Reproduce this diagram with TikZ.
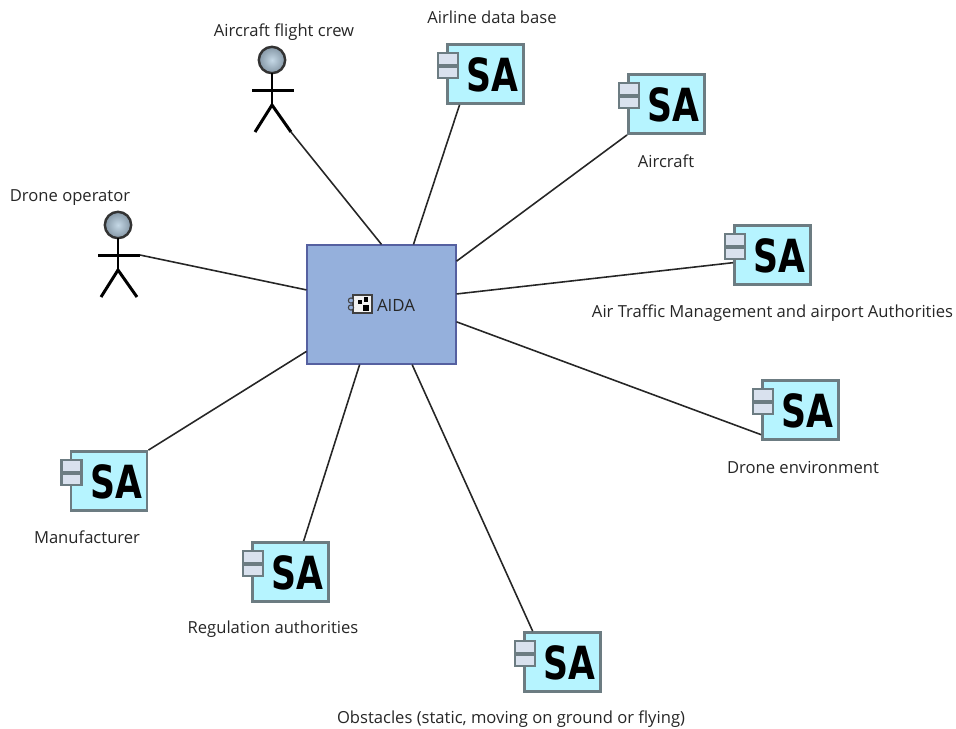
\documentclass[tikz,border=0pt]{standalone}
\usepackage{fontspec}
\setmainfont{Open Sans}
\newfontfamily\sabold{DejaVu Sans}
\usepackage{tikz}
\usetikzlibrary{positioning}
\definecolor{saFill}{HTML}{B6F4FF}
\definecolor{saEdge}{HTML}{6C7C82}
\definecolor{portFill}{HTML}{D9E1EE}
\definecolor{aidaFill}{HTML}{95B0DC}
\definecolor{aidaEdge}{HTML}{5560A0}
\definecolor{headIn}{HTML}{C5D8E6}
\definecolor{headOut}{HTML}{8496A5}
\definecolor{txt}{HTML}{262626}
\tikzset{
  sabox/.style={draw=saEdge, fill=saFill, line width=1.4pt, minimum width=43.5pt, minimum height=33.8pt, inner sep=0},
  saport/.style={draw=saEdge, fill=portFill, line width=1.3pt, minimum width=11.3pt, minimum height=6.6pt, inner sep=0},
  satext/.style={font=\sabold\bfseries\fontsize{26}{26}\selectfont, xscale=.76, inner sep=0, text=black},
  lbl/.style={font=\fontsize{9.45}{11}\selectfont, text=txt, inner sep=0},
  link/.style={line width=.9pt, black!85},
  limb/.style={line width=1.7pt, black},
  head/.style={circle, draw=black!80, line width=1.4pt, inner color=headIn, outer color=headOut, minimum size=15pt, inner sep=0}
}
\newcommand{\sacomp}[3]{
  \node [sabox] (#1) at (#2,#3) {};
  \node [satext] (#1-sa) at (#2+7,#3+1) {SA};
  \node [saport] (#1-pa) at (#2-37.5,#3-15) {};
  \node [saport] (#1-pb) at (#2-37.5,#3-1.5) {};
}
\newcommand{\actor}[3]{
  \node [head] (#1) at (#2,#3) {};
  \coordinate (#1-neck) at (#2,#3+13);
  \coordinate (#1-hip) at (#2,#3+45);
  \coordinate (#1-la) at (#2-20,#3+30);
  \coordinate (#1-ra) at (#2+22,#3+30);
  \coordinate (#1-ll) at (#2-17,#3+72);
  \coordinate (#1-rl) at (#2+19,#3+72);
  \draw [limb] (#1-neck) -- (#1-hip);
  \draw [limb] (#1-la) -- (#1-ra);
  \draw [limb] (#1-ll) -- (#1-hip) -- (#1-rl);
}
\begin{document}
\begin{tikzpicture}[x=0.02cm,y=-0.02cm]
\useasboundingbox (0,0) rectangle (956,728);
\node [draw=aidaEdge, fill=aidaFill, line width=.9pt, minimum width=84.5pt, minimum height=67.5pt, inner sep=0] (aida) at (381.5,304.5) {};
% little component icon
\node [draw=black!75, fill=black!5, line width=.8pt, minimum width=10.8pt, minimum height=10.2pt, inner sep=0] (icon) at (362.5,304) {};
\node [draw=black!75, fill=aidaFill, circle, line width=.6pt, minimum size=3pt, inner sep=0] (iconA) at (351,300.5) {};
\node [draw=black!75, fill=aidaFill, circle, line width=.6pt, minimum size=3pt, inner sep=0] (iconB) at (351,307.5) {};
\node [fill=black, minimum size=2.6pt, inner sep=0] (iconC) at (360,302) {};
\node [fill=black, minimum size=2.6pt, inner sep=0] (iconD) at (366,299.5) {};
\node [fill=black, minimum size=3.2pt, inner sep=0] (iconE) at (366,308) {};
\node [lbl, font=\fontsize{9.6}{11}\selectfont] (aidaText) at (396,305) {AIDA};

\sacomp{airline}{485.5}{74}
\sacomp{aircraft}{666.5}{104}
\sacomp{atm}{772.5}{255}
\sacomp{env}{800.5}{410}
\sacomp{obstacles}{562.5}{662}
\sacomp{regulation}{290.5}{572}
\sacomp{manufacturer}{109}{481}
\actor{crew}{272}{60}
\actor{operator}{118}{225}

\node [lbl] (crewText) at (284,32) {Aircraft flight crew};
\node [lbl] (airlineText) at (492,17) {Airline data base};
\node [lbl] (aircraftText) at (666,161) {Aircraft};
\node [lbl] (atmText) at (772.5,313) {Air Traffic Management and airport Authorities};
\node [lbl] (envText) at (803,467) {Drone environment};
\node [lbl] (operatorText) at (70,198) {Drone operator};
\node [lbl] (manufacturerText) at (87,537) {Manufacturer};
\node [lbl] (regulationText) at (273,629) {Regulation authorities};
\node [lbl] (obstaclesText) at (511,719) {Obstacles (static, moving on ground or flying)};

\draw [link] (crew-rl) -- (aida.north);
\draw [link] (airline.230.8) -- (aida.62.9);
\draw [link] (aircraft.south west) -- (aida.30.7);
\draw [link] (atm.191.7) -- (aida.8);
\draw [link] (env.212) -- (aida.-13.1);
\draw [link] (obstacles.134.5) -- (aida.-63.8);
\draw [link] (regulation.67.4) -- (aida.-110.6);
\draw [link] (manufacturer.north east) -- (aida.212.3);
\draw [link] (operator-ra) -- (aida.169);
\end{tikzpicture}
\end{document}
